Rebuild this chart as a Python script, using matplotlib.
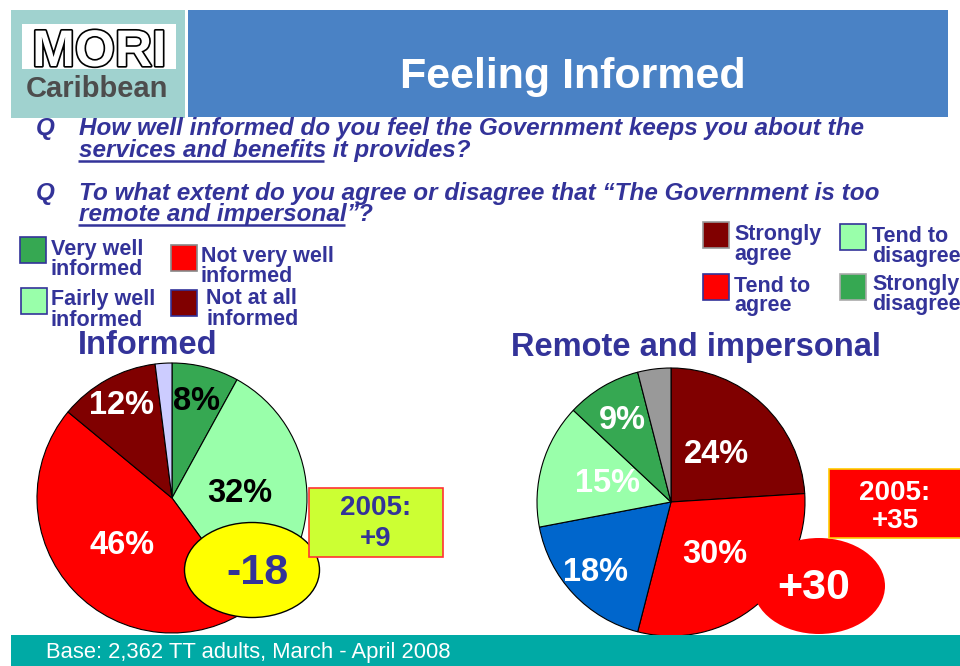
import numpy as np
import matplotlib
matplotlib.use("Agg")
import matplotlib.pyplot as plt
from matplotlib.patches import Rectangle, Ellipse
import matplotlib.patheffects as pe

plt.rcParams['font.family'] = ['Liberation Sans', 'DejaVu Sans']

W, H = 960, 666
NAVY = '#333399'

# data
informed_labels = ["Very well informed", "Fairly well informed",
                   "Not very well informed", "Not at all informed", "Don't know"]
informed_values = [8, 32, 46, 12, 2]
informed_2005 = 9

remote_labels = ["Strongly agree", "Tend to agree", "Neither",
                 "Tend to disagree", "Strongly disagree", "Don't know"]
remote_values = [24, 30, 18, 15, 9, 4]
remote_2005 = 35

informed_colors = ['#36A852', '#99FFAA', '#FF0000', '#800000', '#CCCCFF']
remote_colors = ['#800000', '#FF0000', '#0066CC', '#99FFAA', '#36A852', '#999999']


def Y(y):
    # slide measured from the top, axes measured from the bottom
    return H - y


fig = plt.figure(figsize=(W / 100, H / 100), dpi=100)
ax = fig.add_axes([0, 0, 1, 1])
ax.set_xlim(0, W)
ax.set_ylim(0, H)


def box(x0, y0, x1, y1, fc, ec='none', lw=1, z=2):
    ax.add_patch(Rectangle((x0, Y(y1)), x1 - x0, y1 - y0, facecolor=fc,
                           edgecolor=ec, linewidth=lw, zorder=z))


def txt(x, y, s, size, color=NAVY, ha='left', weight='bold', style='normal', z=5, **kw):
    return ax.text(x, Y(y), s, fontsize=size, color=color, ha=ha, va='baseline',
                   fontweight=weight, fontstyle=style, zorder=z, **kw)


# header
box(11, 10, 185, 118, '#A0D2CF')
box(22, 24, 176, 69, 'white', z=3)
txt(99, 66, "MORI", 37, color='white', ha='center',
    path_effects=[pe.withStroke(linewidth=2.4, foreground='black')])
txt(97, 97, "Caribbean", 21, color='#4D4D4D', ha='center')
box(188, 10, 948, 117, '#4A82C5')
txt(573, 88, "Feeling Informed", 31, color='white', ha='center')

# questions
renderer = fig.canvas.get_renderer()
qsize = 17.5


def underlined(x, y, first, rest):
    t = txt(x, y, first, qsize, style='italic')
    bb = t.get_window_extent(renderer)
    ax.plot([bb.x0 - 1, bb.x1 - 2], [Y(y) - 3.5, Y(y) - 3.5], color=NAVY, lw=1.8,
            solid_capstyle='butt', zorder=5)
    txt(bb.x1, y, rest, qsize, style='italic')


txt(36, 135, "Q", qsize, style='italic')
txt(79, 135, "How well informed do you feel the Government keeps you about the", qsize, style='italic')
underlined(79, 157, "services and benefits", " it provides?")
txt(36, 200, "Q", qsize, style='italic')
txt(79, 200, "To what extent do you agree or disagree that \u201cThe Government is too", qsize, style='italic')
underlined(79, 221, "remote and impersonal", "\u201d?")

# legends
leg_size = 15.5
informed_legend = [
    ((20, 237, 46, 263), informed_colors[0], NAVY, 51, (255, 275), ["Very well", "informed"]),
    ((21, 288, 47, 314), informed_colors[1], NAVY, 51, (305, 326), ["Fairly well", "informed"]),
    ((171, 245, 197, 271), informed_colors[2], '#888888', 201, (262, 282), ["Not very well", "informed"]),
    ((171, 290, 197, 316), informed_colors[3], NAVY, 206, (304, 325), ["Not at all", "informed"]),
]
remote_legend = [
    ((703, 222, 729, 248), remote_colors[0], '#999999', 734, (240, 260), ["Strongly", "agree"]),
    ((703, 274, 729, 300), remote_colors[1], NAVY, 734, (292, 311), ["Tend to", "agree"]),
    ((840, 224, 866, 250), remote_colors[3], NAVY, 872, (242, 262), ["Tend to", "disagree"]),
    ((840, 274, 866, 300), remote_colors[4], '#AAAAAA', 872, (290, 310), ["Strongly", "disagree"]),
]
for (x0, y0, x1, y1), fc, ec, tx, (b1, b2), lines in informed_legend + remote_legend:
    box(x0, y0, x1, y1, fc, ec, lw=1.2, z=3)
    txt(tx, b1, lines[0], leg_size)
    txt(tx, b2, lines[1], leg_size)

txt(148, 354, "Informed", 23.5, ha='center')
txt(696, 356, "Remote and impersonal", 23.5, ha='center')


def draw_pie(values, colors, center, radius, label_r, label_colors):
    wedges, _ = ax.pie(values, colors=colors, startangle=90, counterclock=False,
                       center=(center[0], Y(center[1])), radius=radius,
                       wedgeprops=dict(edgecolor='black', linewidth=0.8))
    for w, v, r, c in zip(wedges, values, label_r, label_colors):
        if r is None:
            continue
        ang = np.deg2rad((w.theta1 + w.theta2) / 2)
        ax.text(w.center[0] + r * radius * np.cos(ang), w.center[1] + r * radius * np.sin(ang),
                f"{v}%", fontsize=23.5, fontweight='bold', color=c,
                ha='center', va='center', zorder=4)


draw_pie(informed_values, informed_colors, (172, 498), 135,
         [0.74, 0.5, 0.51, 0.78, None], ['black', 'black', 'white', 'white', None])
draw_pie(remote_values, remote_colors, (671, 502), 134,
         [0.49, 0.51, 0.77, 0.49, 0.71, None], ['white'] * 5 + [None])

# net scores
informed_net = sum(informed_values[:2]) - sum(informed_values[2:4])
remote_net = sum(remote_values[:2]) - sum(remote_values[3:5])

ax.add_patch(Ellipse((252, Y(570)), 135, 95, facecolor='#FFFF00', edgecolor='black',
                     linewidth=1, zorder=6))
txt(258, 584, f"{informed_net:+d}", 31, z=7, ha='center')
box(309, 488, 443, 557, '#CCFF33', '#FF3333', lw=1.2, z=6)
txt(376, 515, "2005:", 20, ha='center', z=7)
txt(376, 546, f"{informed_2005:+d}", 20, ha='center', z=7)

ax.add_patch(Ellipse((819, Y(586)), 132, 96, facecolor='#FF0000', edgecolor='none', zorder=6))
txt(814, 599, f"{remote_net:+d}", 31, color='white', ha='center', z=7)
box(829, 469, 962, 538, '#FF0000', '#FFCC00', lw=1.2, z=6)
txt(895, 500, "2005:", 20, color='white', ha='center', z=7)
txt(895, 528, f"{remote_2005:+d}", 20, color='white', ha='center', z=7)

# footer
box(11, 635, 962, 668, '#00AAA5', z=8)
txt(46, 658, "Base: 2,362 TT adults, March - April 2008", 15.8, color='white',
    weight='normal', z=9)

ax.set_xlim(0, W)
ax.set_ylim(0, H)
ax.set_aspect('auto')
ax.axis('off')
fig.savefig("out.png", dpi=100, facecolor='white')
